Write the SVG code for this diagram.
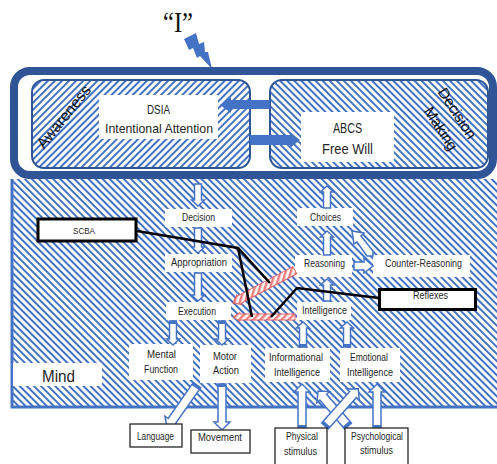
<svg xmlns="http://www.w3.org/2000/svg" width="497" height="464" viewBox="0 0 497 464">
<defs>
<pattern id="hd" width="5" height="5" patternUnits="userSpaceOnUse" patternTransform="rotate(-45)"><rect width="5" height="5" fill="#fff"/><rect width="2" height="5" fill="#4472C4"/></pattern>
<pattern id="hu" width="5" height="5" patternUnits="userSpaceOnUse" patternTransform="rotate(45)"><rect width="5" height="5" fill="#fff"/><rect width="2" height="5" fill="#4472C4"/></pattern>
<pattern id="rs" width="5" height="5" patternUnits="userSpaceOnUse" patternTransform="rotate(45)"><rect width="5" height="5" fill="#fff"/><rect width="2.5" height="5" fill="#EC7E7E"/></pattern>
</defs>
<style>
.t{font-family:"Liberation Sans",Arial,sans-serif;font-size:10.5px;fill:#262626;text-anchor:middle}
.big{font-size:13px}
.wb{fill:#fff}
.ba{fill:#fff;stroke:#4472C4;stroke-width:1.5;stroke-linejoin:miter}
.cap{fill:#4472C4}
.sa{fill:#4472C4}
.bk{fill:none;stroke:#000;stroke-width:2.5;stroke-linejoin:miter}
.kb{fill:#fff;stroke:#000;stroke-width:3}
.ob{fill:#fff;stroke:#262626;stroke-width:1.3}
.rb{fill:url(#rs);stroke:#E06666;stroke-width:1}
.ib{stroke:#2F5597;stroke-width:2}
</style>

<g id="mind">
<rect x="12" y="179" width="490" height="228" fill="url(#hd)"/>
<path d="M12,179 V407 H497" fill="none" stroke="#4472C4" stroke-width="3"/>
<rect class="wb" x="13" y="363" width="89" height="23"/>
<text class="t" x="58.5" y="382" style="font-size:17px" textLength="33" lengthAdjust="spacingAndGlyphs">Mind</text>
</g>

<g id="self">
<text x="178" y="32" style="font-family:'Liberation Serif','Times New Roman',serif;font-size:30px;fill:#111;text-anchor:middle" textLength="30" lengthAdjust="spacingAndGlyphs">“I”</text>
<polygon class="sa" points="184,39 196,33 199,44 204,42 205,52 208,52 212,69 200,56 197,58 193,48 189,50"/>
</g>

<g id="frame">
<rect x="14" y="71" width="479" height="104" rx="16" fill="#fff" stroke="#2F5597" stroke-width="8"/>
</g>

<g id="awareness">
<rect class="ib" x="32" y="80" width="218" height="88" rx="12" fill="url(#hu)"/>
<text class="t" transform="translate(64,117) rotate(-51)" x="0" y="5" style="font-size:15.5px;fill:#111" textLength="76" lengthAdjust="spacingAndGlyphs">Awareness</text>
</g>

<g id="decision-making">
<rect class="ib" x="270" y="80" width="218" height="88" rx="12" fill="url(#hd)"/>
<g transform="translate(449,121) rotate(57)">
<text class="t" x="-2" y="-6" style="font-size:15px;fill:#111">Decision</text>
<text class="t" x="2" y="16" style="font-size:15px;fill:#111">Making</text>
</g>
</g>

<g id="dsia">
<rect class="wb" x="99" y="95" width="119" height="44"/>
<text class="t big" x="158.5" y="113.5" textLength="23" lengthAdjust="spacingAndGlyphs">DSIA</text>
<text class="t big" x="159" y="132.5" textLength="108" lengthAdjust="spacingAndGlyphs">Intentional Attention</text>
</g>

<g id="abcs">
<rect class="wb" x="301" y="112" width="93" height="50"/>
<text class="t" x="347.5" y="133" style="font-size:14px" textLength="29" lengthAdjust="spacingAndGlyphs">ABCS</text>
<text class="t" x="347.5" y="154" style="font-size:14px" textLength="51" lengthAdjust="spacingAndGlyphs">Free Will</text>
</g>

<g id="decision"><rect class="wb" x="165" y="209" width="67" height="18"/><text class="t" x="198.5" y="221" textLength="33" lengthAdjust="spacingAndGlyphs">Decision</text></g>
<g id="appropriation"><rect class="wb" x="165" y="254" width="67" height="18"/><text class="t" x="199" y="265.5" textLength="56" lengthAdjust="spacingAndGlyphs">Appropriation</text></g>
<g id="execution"><rect class="wb" x="166" y="302" width="65" height="18"/><text class="t" x="197" y="314.5" textLength="38" lengthAdjust="spacingAndGlyphs">Execution</text></g>
<g id="choices"><rect class="wb" x="297" y="208" width="56" height="18"/><text class="t" x="325.5" y="220.5" textLength="31" lengthAdjust="spacingAndGlyphs">Choices</text></g>
<g id="reasoning"><rect class="wb" x="295" y="255" width="57" height="22"/><text class="t" x="324.5" y="267" textLength="41" lengthAdjust="spacingAndGlyphs">Reasoning</text></g>
<g id="counter-reasoning"><rect class="wb" x="373" y="255" width="97" height="22"/><text class="t" x="423.5" y="267" textLength="77" lengthAdjust="spacingAndGlyphs">Counter-Reasoning</text></g>
<g id="intelligence"><rect class="wb" x="297" y="302" width="54" height="18"/><text class="t" x="324.5" y="313.5" textLength="45" lengthAdjust="spacingAndGlyphs">Intelligence</text></g>

<g id="mental-function"><rect class="wb" x="129" y="344" width="64" height="36"/><text class="t" x="161.5" y="357.5" textLength="29" lengthAdjust="spacingAndGlyphs">Mental</text><text class="t" x="161" y="372.5" textLength="34" lengthAdjust="spacingAndGlyphs">Function</text></g>
<g id="motor-action"><rect class="wb" x="200" y="345" width="51" height="38"/><text class="t" x="225" y="359.5" textLength="24" lengthAdjust="spacingAndGlyphs">Motor</text><text class="t" x="226" y="373.5" textLength="26" lengthAdjust="spacingAndGlyphs">Action</text></g>
<g id="informational-intelligence"><rect class="wb" x="265" y="348" width="65" height="34"/><text class="t" x="296" y="360.5" textLength="54" lengthAdjust="spacingAndGlyphs">Informational</text><text class="t" x="297" y="375.5" textLength="46" lengthAdjust="spacingAndGlyphs">Intelligence</text></g>
<g id="emotional-intelligence"><rect class="wb" x="340" y="348" width="60" height="34"/><text class="t" x="369" y="360.5" textLength="38" lengthAdjust="spacingAndGlyphs">Emotional</text><text class="t" x="370" y="375.5" textLength="46" lengthAdjust="spacingAndGlyphs">Intelligence</text></g>

<g id="connectors">
<polygon class="sa" points="270,100 231,100 231,97 220,105 231,113 231,109 270,109"/>
<polygon class="sa" points="250,135 290,135 290,132 300,140 290,148 290,145 250,145"/>

<polygon class="ba" points="194.5,184 201.5,184 201.5,200 204.5,200 198,206 191.5,200 194.5,200"/>
<polygon class="ba" points="194.5,228 201.5,228 201.5,247 204.5,247 198,253 191.5,247 194.5,247"/>
<polygon class="ba" points="194.5,273 201.5,273 201.5,295 204.5,295 198,301 191.5,295 194.5,295"/>
<polygon class="ba" points="323.5,208 330.5,208 330.5,192 333.5,192 327,186 320.5,192 323.5,192"/>
<polygon class="ba" points="323.5,255 330.5,255 330.5,237 333.5,237 327,231 320.5,237 323.5,237"/>
<polygon class="ba" points="323.5,301 330.5,301 330.5,285 333.5,285 327,279 320.5,285 323.5,285"/>

<polygon class="ba" points="352,231 364,233 361,236 373,251 373,256 367,256 357,242 354,244"/>
<polygon class="ba" points="354,262 364,262 364,258 373,266 364,273 364,270 354,270"/>

<polygon class="ba" points="169.5,321 176.5,321 176.5,339 179.5,339 173,345 166.5,339 169.5,339"/>
<rect class="cap" x="169.5" y="321" width="7" height="3"/>
<polygon class="ba" points="218.5,321 225.5,321 225.5,339 228.5,339 222,345 215.5,339 218.5,339"/>
<rect class="cap" x="218.5" y="321" width="7" height="3"/>
<polygon class="ba" points="299.5,347 306.5,347 306.5,328 309.5,328 303,322 296.5,328 299.5,328"/>
<rect class="cap" x="299.5" y="344" width="7" height="3"/>
<polygon class="ba" points="343.5,347 350.5,347 350.5,328 353.5,328 347,322 340.5,328 343.5,328"/>
<rect class="cap" x="343.5" y="344" width="7" height="3"/>

<polygon class="ba" points="218,384 226,384 226,422 230,422 222,430 214,422 218,422"/>
<rect class="cap" x="218" y="384" width="8" height="3"/>
<g transform="translate(197,385) rotate(124.9)"><polygon class="ba" points="0,-4.5 44,-4.5 44,-8.5 52,0 44,8.5 44,4.5 0,4.5"/><rect class="cap" x="0" y="-4.5" width="3" height="9"/></g>
<polygon class="ba" points="298,428 306,428 306,392 310,392 302,384 294,392 298,392"/>
<rect class="cap" x="298" y="425" width="8" height="3"/>
<polygon class="ba" points="373,428 381,428 381,392 385,392 377,384 369,392 373,392"/>
<rect class="cap" x="373" y="425" width="8" height="3"/>
<g transform="translate(348,426) rotate(-130.6)"><polygon class="ba" points="0,-4.5 38,-4.5 38,-8.5 46,0 38,8.5 38,4.5 0,4.5"/><rect class="cap" x="0" y="-4.5" width="3" height="9"/></g>
<g transform="translate(325,426) rotate(-48.3)"><polygon class="ba" points="0,-4.5 42,-4.5 42,-8.5 50,0 42,8.5 42,4.5 0,4.5"/><rect class="cap" x="0" y="-4.5" width="3" height="9"/></g>

<polygon class="rb" transform="translate(233,303) rotate(-28)" points="0,0 7,-5.5 7,-4 70,-4 70,4 7,4 7,5.5"/>
<polygon class="rb" transform="translate(233,317)" points="0,0 7,-4.5 7,-3 62,-3 62,3 7,3 7,4.5"/>

<polyline class="bk" points="137,231 238,248 270,283"/>
<line class="bk" x1="238" y1="248" x2="252" y2="317"/>
<polyline class="bk" points="379,298 297,288 271,317"/>
</g>

<g id="scba"><rect class="kb" x="38" y="219" width="98" height="22"/><text class="t" x="84" y="233.5" style="font-size:9.5px" textLength="22" lengthAdjust="spacingAndGlyphs">SCBA</text></g>
<g id="reflexes"><rect class="kb" x="379.5" y="289.5" width="96" height="20"/><text class="t" x="430.5" y="299" textLength="35" lengthAdjust="spacingAndGlyphs">Reflexes</text></g>

<g id="language"><rect class="ob" x="130" y="424" width="52" height="23"/><text class="t" x="155.5" y="439.5" textLength="37" lengthAdjust="spacingAndGlyphs">Language</text></g>
<g id="movement"><rect class="ob" x="191" y="430" width="59" height="23"/><text class="t" x="220" y="441" textLength="44" lengthAdjust="spacingAndGlyphs">Movement</text></g>
<g id="physical-stimulus"><rect class="ob" x="275" y="428" width="52" height="40"/><text class="t" x="302" y="440" textLength="32" lengthAdjust="spacingAndGlyphs">Physical</text><text class="t" x="300.5" y="454.5" textLength="33" lengthAdjust="spacingAndGlyphs">stimulus</text></g>
<g id="psychological-stimulus"><rect class="ob" x="345" y="428" width="63" height="40"/><text class="t" x="377" y="439.5" textLength="52" lengthAdjust="spacingAndGlyphs">Psychological</text><text class="t" x="376.5" y="453.5" textLength="33" lengthAdjust="spacingAndGlyphs">stimulus</text></g>
</svg>
